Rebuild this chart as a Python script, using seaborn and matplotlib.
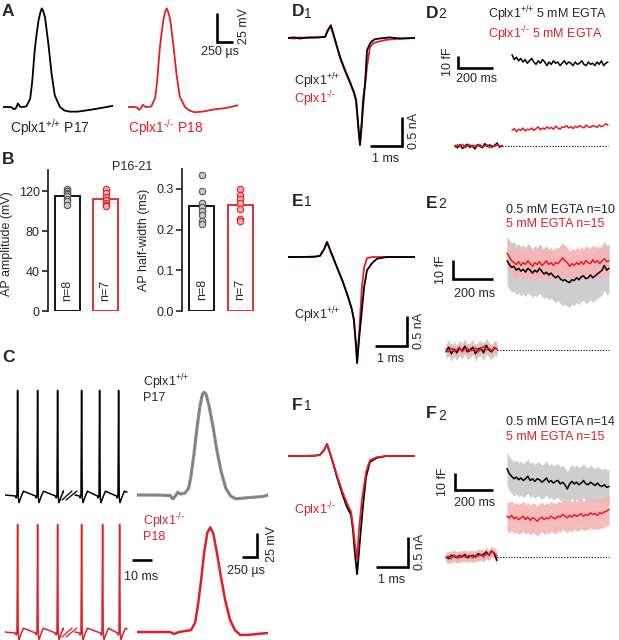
import numpy as np
import pandas as pd
import matplotlib
matplotlib.use('Agg')
import matplotlib.pyplot as plt
import seaborn as sns

sns.set_style('ticks')
plt.rcParams['font.family'] = ['Liberation Sans', 'DejaVu Sans']
plt.rcParams['mathtext.fontset'] = 'custom'
plt.rcParams['mathtext.rm'] = 'Liberation Sans'
plt.rcParams['mathtext.it'] = 'Liberation Sans:italic'
plt.rcParams['mathtext.bf'] = 'Liberation Sans:bold'

RED = '#e41e26'
GREY_BAND = '#c9c9c9'
PINK_BAND = '#f6b4b4'
WT = r'Cplx1$^{\text{+/+}}$'
KO = r'Cplx1$^{\text{-/-}}$'

# ---- A: single APs (ms, mV)
a_wt_t = [0, 0.1, 0.14, 0.17, 0.2, 0.23, 0.27, 0.3, 0.36, 0.42, 0.45, 0.49, 0.52, 0.55, 0.58, 0.6,
          0.62, 0.65, 0.7, 0.75, 0.8, 0.88, 0.95, 1.03, 1.15, 1.34, 1.5, 1.7]
a_wt_v = [-65, -65, -65.5, -67, -66, -62, -65, -65, -64.5, -58, -44, -16, -2, 10, 17, 20,
          18, 12, -10, -36, -55, -65, -68, -69, -69, -67.5, -66, -64]
a_ko_t = [0, 0.1, 0.14, 0.17, 0.2, 0.23, 0.27, 0.3, 0.36, 0.42, 0.45, 0.49, 0.52, 0.55, 0.58, 0.6,
          0.62, 0.65, 0.7, 0.75, 0.8, 0.88, 0.95, 1.03, 1.15, 1.34, 1.5, 1.7]
a_ko_v = [-65, -65, -65.5, -67.5, -66, -63, -65, -65, -64.5, -57, -43, -15, -1, 11, 18, 20,
          17, 11, -11, -37, -56, -65, -68, -69.5, -69, -67, -66, -63.5]

# ---- B: AP amplitude and half-width
amp_wt = [122, 120, 118, 117, 115, 112, 110, 106]
amp_ko = [122, 118, 114, 111, 108, 106, 105]
hw_wt = [0.335, 0.295, 0.265, 0.255, 0.245, 0.235, 0.22, 0.215]
hw_ko = [0.30, 0.285, 0.275, 0.265, 0.25, 0.225, 0.22]

# ---- C: spike trains (ms) and averaged APs
spikes_wt = [[6, 16, 26], [38, 47, 56.5]]
spikes_ko = [[6, 16, 26], [38, 48.5, 57]]
seg_edges = [[0, 29], [35, 61]]
spk_dt = [-0.8, -0.4, 0, 0.3, 0.6, 1.0, 2.0, 3.2]
spk_dv_wt = [-1, -3, 0, 109, -2, -8, -2, 4]
spk_dv_ko = [-1, -3, 0, 112, -2, -8, -2, 4]

c_wt_t = [0, 0.3, 0.55, 0.6, 0.64, 0.68, 0.72, 0.8, 0.86, 0.9, 0.95, 1.0, 1.05, 1.09, 1.12, 1.15,
          1.2, 1.27, 1.33, 1.4, 1.48, 1.56, 1.65, 1.8, 2.0, 2.1, 2.18]
c_wt_v = [-65, -65, -65.5, -69, -66, -62, -64, -63, -58, -45, -22, 5, 28, 40, 42, 40,
          28, 5, -18, -40, -58, -66, -69, -68, -67, -66.5, -65]
c_ko_t = [0, 0.55, 0.62, 0.7, 0.9, 0.97, 1.02, 1.07, 1.12, 1.17, 1.22, 1.27, 1.33, 1.4, 1.47,
          1.55, 1.63, 1.72, 1.85, 2.0, 2.18]
c_ko_v = [-65, -65, -67, -65, -63, -55, -35, -10, 18, 38, 44, 38, 18, -8, -32,
          -52, -63, -68, -68, -67, -66]

# ---- D1/E1/F1: presynaptic Ca currents (ms, nA)
d1_wt_t = [0, 0.2, 0.375, 0.6, 0.94, 1.16, 1.25, 1.34, 1.47, 1.63, 1.78, 1.94, 2.06, 2.13, 2.19, 2.25,
           2.31, 2.41, 2.47, 2.59, 2.72, 3.0, 3.19, 3.5, 3.97]
d1_wt_i = [0, 0.01, -0.01, 0.01, 0.01, 0.02, 0.14, 0.22, -0.03, -0.33, -0.55, -0.76, -0.93, -1.07, -1.47, -1.84,
           -1.41, -0.78, -0.21, -0.07, -0.02, 0.0, 0.01, -0.01, 0.0]
d1_ko_t = [0, 0.2, 0.375, 0.6, 0.94, 1.16, 1.25, 1.34, 1.47, 1.63, 1.78, 1.94, 2.06, 2.13, 2.19, 2.25,
           2.31, 2.34, 2.41, 2.47, 2.56, 2.66, 2.78, 3.09, 3.5, 3.97]
d1_ko_i = [0, -0.01, 0.01, 0.0, 0.01, 0.02, 0.13, 0.2, -0.04, -0.35, -0.57, -0.78, -0.95, -1.1, -1.5, -1.85,
           -1.5, -1.07, -0.8, -0.5, -0.16, -0.09, -0.07, -0.03, -0.01, 0.0]

e1_wt_t = [0, 0.38, 0.84, 1.0, 1.13, 1.22, 1.38, 1.53, 1.72, 1.88, 2.0, 2.06, 2.13, 2.16, 2.22,
           2.31, 2.38, 2.47, 2.63, 2.78, 3.09, 3.97]
e1_wt_i = [0, 0.0, 0.005, 0.02, 0.13, 0.25, 0.03, -0.17, -0.42, -0.67, -0.88, -1.05, -1.5, -1.77, -1.38,
           -0.88, -0.5, -0.22, -0.1, -0.03, 0.0, 0.0]
e1_ko_t = [0, 0.38, 0.84, 1.0, 1.13, 1.22, 1.38, 1.53, 1.72, 1.88, 2.0, 2.06, 2.13, 2.16, 2.22,
           2.31, 2.38, 2.47, 2.63, 3.97]
e1_ko_i = [0, 0.0, 0.005, 0.02, 0.13, 0.25, 0.03, -0.17, -0.42, -0.67, -0.88, -1.05, -1.5, -1.75, -1.3,
           -0.5, -0.17, -0.02, 0.0, 0.0]

f1_wt_t = [0, 0.38, 0.84, 1.0, 1.13, 1.22, 1.38, 1.53, 1.69, 1.84, 1.97, 2.03, 2.09, 2.16, 2.25,
           2.34, 2.44, 2.56, 2.78, 3.09, 3.97]
f1_wt_i = [0, 0.0, 0.005, 0.02, 0.1, 0.2, -0.07, -0.35, -0.62, -0.85, -0.98, -1.23, -1.62, -1.97, -1.4,
           -0.85, -0.35, -0.1, -0.03, 0.0, 0.0]
f1_ko_t = [0, 0.38, 0.84, 1.0, 1.13, 1.22, 1.38, 1.53, 1.69, 1.84, 1.97, 2.03, 2.09, 2.16, 2.22,
           2.31, 2.44, 2.56, 2.78, 3.09, 3.97]
f1_ko_i = [0, 0.0, 0.005, 0.02, 0.1, 0.2, -0.06, -0.32, -0.58, -0.78, -0.93, -1.15, -1.45, -1.73, -1.23,
           -0.73, -0.27, -0.07, -0.02, 0.0, 0.0]

# ---- D2/E2/F2: capacitance (fF); pre = before depolarisation, post = after
d2_pre_span, d2_post_span = (0, 269), (326, 874)
d2_wt_pre = [0.5, -1.5, 1, -2, 0, 1.5, -1, 0.5, -2.5, 1, 0, -1.5, 2, -0.5, 1, -1, 0.5, 2.5, -1, 0.5]
d2_ko_pre = [-1, 1, -0.5, 1.5, -1.5, 0, 1, -1, 0.5, -0.5, 1.5, -1, 0, 1, -1.5, 0.5, -0.5, 1, 0, -0.5]
d2_wt_post = [76, 72, 74, 71, 73, 70, 72, 69, 71, 73, 70, 68, 71, 69, 72, 70, 67, 70, 68, 71, 69, 70, 67,
              69, 71, 68, 70, 69, 67, 70, 68, 69, 71, 68, 67, 70, 68, 69, 67, 70, 68, 71, 67, 69, 70]
d2_ko_post = [13, 14.5, 12, 14, 13, 15, 12.5, 14, 13.5, 15, 13, 14.5, 16, 13.5, 15, 14, 16, 14.5, 15.5, 14,
              16.5, 15, 14, 16, 15.5, 17, 15, 16, 14.5, 16.5, 15.5, 17, 16, 15, 17.5, 16, 15.5, 17, 16.5,
              15.5, 17.5, 16, 17, 18.5, 17.5]

e2_pre_span, e2_post_span = (0, 255), (305, 815)
e2_wt_pre = [-1, 1.5, -2, 0.5, -1.5, 1, -0.5, 2, -1, 0, 1.5, -2, 0.5, 1, -1.5, 2.5, 0, -1, 1, 0.5]
e2_ko_pre = [0.5, -1, 1, -0.5, 0, 1.5, -1, 0.5, 1, -0.5, 0, 1, -1, 0.5, 2, 0, 1, -0.5, 1.5, 0.5]
e2_wt_post = [47, 45, 43.5, 44, 42, 43, 41.5, 42.5, 41, 43, 42, 40.5, 42, 41, 43, 41.5, 40, 41, 39.5, 40.5,
              39, 38, 39, 37.5, 36.5, 37, 36, 35.5, 37, 36.5, 38, 37, 38.5, 39, 37.5, 38, 39.5, 38, 39, 40,
              41, 42, 44.5, 42, 43]
e2_ko_post = [51, 49, 47, 46, 45, 46.5, 44.5, 46, 45, 47, 45.5, 44, 46, 45, 46.5, 44.5, 45.5, 47, 45, 46,
              44.5, 46, 45.5, 47, 48.5, 47, 46, 44, 45.5, 44.5, 46, 45, 46.5, 45, 47, 46, 45.5, 47.5, 46,
              47, 45.5, 47, 48, 46.5, 47]
e2_wt_sd, e2_ko_sd = (4.0, 13.0), (2.6, 8.0)

f2_pre_span, f2_post_span = (0, 268), (321, 858)
f2_wt_pre = [0, -1, 1, 0.5, -0.5, 1, 0, 1.5, -0.5, 0.5, 1, 0, 2, 1, 1.5, 3, 1, 3.5, 2, -2]
f2_ko_pre = [-0.5, 0.5, -1, 1, 0, -0.5, 1, 0, 0.5, 1, -0.5, 1, 0.5, 1.5, 0, 2, 1, 3, 2.5, 0.5]
f2_wt_post = [52, 49, 47.5, 46, 47, 45.5, 46.5, 45, 46, 47.5, 45, 46, 44.5, 46, 45.5, 44, 45, 46.5, 44, 45,
              43.5, 44.5, 45, 43, 44, 42.5, 40, 43, 44.5, 43, 44, 42.5, 43.5, 45, 43, 42.5, 44, 43, 42,
              43.5, 42, 41.5, 42.5, 41, 41.5]
f2_ko_post = [24, 23, 24.5, 22.5, 23.5, 22, 23, 24, 22, 23.5, 21.5, 23, 22.5, 21, 22.5, 23.5, 22, 23, 22.5,
              24, 23, 22.5, 24, 23.5, 25, 24, 23, 24.5, 23.5, 25, 24, 24.5, 25.5, 24, 25, 24.5, 26, 25,
              25.5, 24.5, 26, 25.5, 26.5, 27, 28]
f2_wt_sd, f2_ko_sd = (3.0, 10.0), (3.0, 8.8)

# ---------------------------------------------------------------
W, H = 619, 640
fig = plt.figure(figsize=(W / 100, H / 100), dpi=100)


def px_axes(x0, y0, x1, y1, xlim, ylim):
    ax = fig.add_axes([x0 / W, 1 - y1 / H, (x1 - x0) / W, (y1 - y0) / H])
    ax.set_xlim(*xlim)
    ax.set_ylim(*ylim)
    ax.set_axis_off()
    ax.patch.set_alpha(0)
    return ax


def ftxt(x, y, s, **kw):
    kw.setdefault('fontsize', 9)
    kw.setdefault('va', 'center')
    fig.text(x / W, 1 - y / H, s, **kw)


def trace(ax, t, v, color, lw=1.2, **kw):
    sns.lineplot(x=t, y=v, ax=ax, color=color, lw=lw, estimator=None, sort=False, **kw)


def scalebar(ax, x, y, dx, dy):
    ax.plot([x + dx, x, x], [y, y, y + dy], color='black', lw=1.9,
            solid_joinstyle='miter', solid_capstyle='butt', clip_on=False)


def panel_label(x, y, letter, sub=''):
    ftxt(x, y, letter, fontsize=12.5, fontweight='bold')
    if sub:
        ftxt(x + 12, y + 1.5, sub, fontsize=10)


# ---- A
axA1 = px_axes(3, 0, 113, 120, (0, 1.7), (-76.2, 27.2))
axA2 = px_axes(128, 0, 238, 120, (0, 1.7), (-76.2, 27.2))
trace(axA1, a_wt_t, a_wt_v, 'black', 1.3)
trace(axA2, a_ko_t, a_ko_v, RED, 1.3)
scalebar(axA2, 1.376, -9.0, 0.25, 25)
panel_label(2, 11, 'A')
ftxt(10, 128, WT + ' P17', fontsize=10)
ftxt(128, 128, KO + ' P18', fontsize=10, color=RED)
ftxt(220, 52, '250 µs', ha='center')
ftxt(244, 26, '25 mV', ha='center', rotation=90)

# ---- B
panel_label(2, 160, 'B')
ftxt(132, 167, 'P16-21', ha='center')
pal = {'+/+': 'black', '-/-': RED}
df_amp = pd.DataFrame({'genotype': ['+/+'] * len(amp_wt) + ['-/-'] * len(amp_ko), 'value': amp_wt + amp_ko})
df_hw = pd.DataFrame({'genotype': ['+/+'] * len(hw_wt) + ['-/-'] * len(hw_ko), 'value': hw_wt + hw_ko})
for box, df, ylim, ticks, fmt, ylabel, lab_xy, ntext_y in [
        ((48, 170, 125, 311), df_amp, (0, 141), [0, 40, 80, 120], '%d', 'AP amplitude (mV)', (-0.455, 0.48), 21),
        ((182, 169, 260, 311), df_hw, (0, 0.349), [0, 0.1, 0.2, 0.3], '%.1f', 'AP half-width (ms)', (-0.41, 0.5), 0.052)]:
    x0, y0, x1, y1 = box
    ax = fig.add_axes([x0 / W, 1 - y1 / H, (x1 - x0) / W, (y1 - y0) / H])
    ax.patch.set_alpha(0)
    sns.barplot(data=df, x='genotype', y='value', hue='genotype', palette=pal, order=['+/+', '-/-'],
                fill=False, errorbar=None, width=0.66, linewidth=1.3, legend=False, ax=ax)
    for g, fc, ec in [('+/+', '#c8c8c8', '#555555'), ('-/-', '#f4b0b0', RED)]:
        sns.stripplot(data=df[df.genotype == g], x='genotype', y='value', order=['+/+', '-/-'],
                      color=fc, edgecolor=ec, linewidth=0.8, size=4.6, jitter=False, ax=ax, zorder=3)
    ax.set_xlim(-0.51, 1.51)
    ax.set_ylim(*ylim)
    ax.set_yticks(ticks)
    ax.yaxis.set_major_formatter(matplotlib.ticker.FormatStrFormatter(fmt))
    ax.set_xticks([])
    ax.set_xlabel('')
    ax.set_ylabel(ylabel, fontsize=9)
    ax.yaxis.set_label_coords(*lab_xy)
    sns.despine(ax=ax, bottom=True)
    ax.spines['left'].set_linewidth(1.3)
    ax.tick_params(axis='y', length=4, width=1.2, labelsize=9, pad=2, left=True)
    ax.text(0, ntext_y, 'n=%d' % (df.genotype == '+/+').sum(), rotation=90, ha='center', va='center', fontsize=9)
    ax.text(1, ntext_y, 'n=%d' % (df.genotype == '-/-').sum(), rotation=90, ha='center', va='center', fontsize=9)

# ---- C
panel_label(2, 358, 'C')
axCw = px_axes(5, 380, 160, 510, (0, 77.5), (-80.6, 54.8))
axCk = px_axes(5, 515, 160, 640, (0, 77.5), (-73.3, 56.9))
for ax, spikes, dv, col in [(axCw, spikes_wt, spk_dv_wt, 'black'), (axCk, spikes_ko, spk_dv_ko, RED)]:
    for (t0, t1), spk in zip(seg_edges, spikes):
        t = [t0] + [s + d for s in spk for d in spk_dt] + [t1]
        v = [-65] + [-65 + x for s in spk for x in dv] + [-62]
        trace(ax, t, v, col, 1.1)
    ax.plot([28.5, 33.5], [-70.2, -60.8], color=col, lw=0.9)
    ax.plot([30.5, 36.0], [-70.2, -60.8], color=col, lw=0.9)
scalebar(axCk, 63.5, 10, 10, 0)

axCa = px_axes(137, 380, 268, 510, (0, 2.183), (-80.6, 54.8))
axCb = px_axes(137, 515, 268, 640, (0, 2.183), (-73.3, 56.9))
trace(axCa, c_wt_t, c_wt_v, '#8f8f8f', 2.3)
trace(axCa, c_wt_t, c_wt_v, '#333333', 0.6, linestyle=(0, (1, 2)), alpha=0.8)
trace(axCb, c_ko_t, c_ko_v, RED, 1.8)
scalebar(axCb, 2.0, 13.1, -0.25, 25)
ftxt(143, 382, WT)
ftxt(143, 398, 'P17')
ftxt(143, 521, KO, color=RED)
ftxt(143, 537, 'P18', color=RED)
ftxt(141, 577, '10 ms', ha='center')
ftxt(246, 571, '250 µs', ha='center')
ftxt(272, 544, '25 mV', ha='center', rotation=90)

# ---- D1 / E1 / F1
for (y0, y1, ylim, wt, ko, corner, lab_y, lbl, txt) in [
        (20, 160, (-2.103, 0.31), (d1_wt_t, d1_wt_i), (d1_ko_t, d1_ko_i), (3.56, -1.86), 12, 'D', 146),
        (230, 370, (-1.883, 0.45), (e1_wt_t, e1_wt_i), (e1_ko_t, e1_ko_i), (3.72, -1.48), 201, 'E', 346),
        (430, 590, (-2.233, 0.433), (f1_wt_t, f1_wt_i), (f1_ko_t, f1_ko_i), (3.75, -1.85), 405, 'F', 567)]:
    ax = px_axes(288, y0, 415, y1, (0, 3.97), ylim)
    if lbl == 'F':
        trace(ax, *wt, 'black', 1.3)
        trace(ax, *ko, RED, 1.3)
    else:
        trace(ax, *ko, RED, 1.3)
        trace(ax, *wt, 'black', 1.3)
    scalebar(ax, corner[0], corner[1], -1, 0.5)
    panel_label(292, lab_y, lbl, '1')
    bx = 288 + corner[0] * 32
    ftxt(bx - 16, txt + 13, '1 ms', ha='center')
    ftxt(bx + 12, txt - 15, '0.5 nA', ha='center', rotation=90)

ftxt(294, 81, WT)
ftxt(294, 99, KO, color=RED)
ftxt(294, 315, WT)
ftxt(294, 510, KO, color=RED)

# ---- D2 / E2 / F2
axD2 = px_axes(440, 40, 615, 160, (-85.7, 914.3), (-11.67, 88.33))
axE2 = px_axes(440, 195, 615, 370, (-30, 845), (-10.53, 81.58))
axF2 = px_axes(440, 400, 615, 580, (-31.6, 889.5), (-13.53, 92.35))

for ax, pre_span, post_span, wt_pre, ko_pre, wt_post, ko_post, wt_sd, ko_sd, corner in [
        (axD2, d2_pre_span, d2_post_span, d2_wt_pre, d2_ko_pre, d2_wt_post, d2_ko_post, None, None, (17, 65)),
        (axE2, e2_pre_span, e2_post_span, e2_wt_pre, e2_ko_pre, e2_wt_post, e2_ko_post, e2_wt_sd, e2_ko_sd, (35, 37.4)),
        (axF2, f2_pre_span, f2_post_span, f2_wt_pre, f2_ko_pre, f2_wt_post, f2_ko_post, f2_wt_sd, f2_ko_sd, (47, 39.4))]:
    t_pre = np.linspace(*pre_span, len(wt_pre))
    t_post = np.linspace(*post_span, len(wt_post))
    if wt_sd is not None:
        for t, m, sd, col in [(t_pre, wt_pre, wt_sd[0], GREY_BAND), (t_post, wt_post, wt_sd[1], GREY_BAND),
                              (t_pre, ko_pre, ko_sd[0], PINK_BAND), (t_post, ko_post, ko_sd[1], PINK_BAND)]:
            m = np.asarray(m, dtype=float)
            ax.fill_between(t, m - sd, m + sd, color=col, lw=0, alpha=0.9)
    ax.plot([pre_span[1], post_span[1]], [0, 0], color='black', lw=0.8, linestyle=(0, (1, 1.5)))
    trace(ax, t_pre, wt_pre, 'black', 1.1)
    trace(ax, t_pre, ko_pre, RED, 1.1)
    trace(ax, t_post, wt_post, 'black', 1.1)
    trace(ax, t_post, ko_post, RED, 1.1)
    scalebar(ax, corner[0], corner[1], 200, 10)

panel_label(426, 13, 'D', '2')
ftxt(488, 14, WT + ' 5 mM EGTA')
ftxt(488, 34, KO + ' 5 mM EGTA', color=RED)
ftxt(477, 79, '200 ms', ha='center')
ftxt(448, 62, '10 fF', ha='center', rotation=90)

panel_label(426, 203, 'E', '2')
ftxt(506, 210, '0.5 mM EGTA n=10')
ftxt(506, 224, '5 mM EGTA n=15', color=RED)
ftxt(475, 294, '200 ms', ha='center')
ftxt(441, 270, '10 fF', ha='center', rotation=90)

panel_label(426, 414, 'F', '2')
ftxt(506, 422, '0.5 mM EGTA n=14')
ftxt(506, 437, '5 mM EGTA n=15', color=RED)
ftxt(475, 503, '200 ms', ha='center')
ftxt(443, 482, '10 fF', ha='center', rotation=90)

fig.savefig('out.png', dpi=100, facecolor='white')
